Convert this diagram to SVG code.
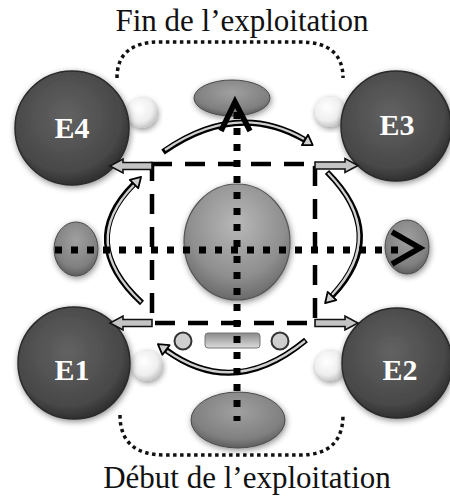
<svg xmlns="http://www.w3.org/2000/svg" width="450" height="498" viewBox="0 0 450 498">
<defs>
<radialGradient id="gDark" cx="0.45" cy="0.4" r="0.6">
<stop offset="0" stop-color="#626262"/><stop offset="0.8" stop-color="#484848"/><stop offset="1" stop-color="#303030"/>
</radialGradient>
<radialGradient id="gMid" cx="0.5" cy="0.35" r="0.65">
<stop offset="0" stop-color="#b8b8b8"/><stop offset="0.7" stop-color="#8e8e8e"/><stop offset="1" stop-color="#6a6a6a"/>
</radialGradient>
<radialGradient id="gEll" cx="0.5" cy="0.35" r="0.65">
<stop offset="0" stop-color="#a0a0a0"/><stop offset="0.75" stop-color="#808080"/><stop offset="1" stop-color="#5e5e5e"/>
</radialGradient>
<radialGradient id="gWhite" cx="0.4" cy="0.35" r="0.65">
<stop offset="0" stop-color="#ffffff"/><stop offset="0.7" stop-color="#eeeeee"/><stop offset="1" stop-color="#c8c8c8"/>
</radialGradient>
<linearGradient id="gBar" x1="0" y1="0" x2="0" y2="1">
<stop offset="0" stop-color="#8a8a8a"/><stop offset="1" stop-color="#dcdcdc"/>
</linearGradient>
<filter id="shadow" x="-20%" y="-20%" width="140%" height="140%">
<feGaussianBlur in="SourceAlpha" stdDeviation="3"/>
<feComponentTransfer><feFuncA type="linear" slope="0.45"/></feComponentTransfer>
<feOffset dx="1" dy="2" result="s"/>
<feMerge><feMergeNode in="s"/><feMergeNode in="SourceGraphic"/></feMerge>
</filter>
<style>
.title{font-family:"Liberation Serif","Times New Roman",serif;font-size:31px;fill:#111;text-anchor:middle}
.elabel{font-family:"Liberation Serif","Times New Roman",serif;font-size:30px;font-weight:bold;fill:#fff;text-anchor:middle}
.big{fill:url(#gDark);stroke:#2a2a2a;stroke-width:1.5;filter:url(#shadow)}
.white{fill:url(#gWhite);filter:url(#shadow)}
.ell{fill:url(#gEll);stroke:#4a4a4a;stroke-width:1;filter:url(#shadow)}
.bracket{fill:none;stroke:#111;stroke-width:3.5;stroke-dasharray:3.5 3.5}
.dash{fill:none;stroke:#000;stroke-width:4.5;stroke-dasharray:20 13}
.dots{fill:none;stroke:#000;stroke-width:7;stroke-dasharray:7 9}
.curveO{fill:none;stroke:#000;stroke-width:6}
.curveI{fill:none;stroke:#d0d0d0;stroke-width:2.4}
.head{fill:#d0d0d0;stroke:#000;stroke-width:1.8;stroke-linejoin:round}
.block{fill:#c4c4c4;stroke:#111;stroke-width:1.6;stroke-linejoin:miter}
.chev{fill:none;stroke:#000;stroke-width:5.5;stroke-linejoin:miter}
</style>
</defs>
<rect width="450" height="498" fill="#fff"/>

<text class="title" x="242" y="31">Fin de l’exploitation</text>
<text class="title" x="247" y="488">Début de l’exploitation</text>

<g id="brackets">
<path class="bracket" d="M117,78 Q117,42 160,42 L300,42 Q343,42 343,78"/>
<path class="bracket" d="M120,415 Q120,455 165,455 L300,455 Q343,455 343,415"/>
</g>

<g id="highlights">
<circle class="white" cx="142" cy="113" r="15"/>
<circle class="white" cx="330" cy="112" r="15"/>
<circle class="white" cx="147" cy="366" r="15"/>
<circle class="white" cx="330" cy="366" r="15"/>
</g>

<g id="E4"><circle class="big" cx="72" cy="128" r="57"/><text class="elabel" x="72" y="138">E4</text></g>
<g id="E3"><circle class="big" cx="396" cy="126" r="55"/><text class="elabel" x="397" y="135">E3</text></g>
<g id="E1"><circle class="big" cx="74" cy="363" r="56"/><text class="elabel" x="72" y="380">E1</text></g>
<g id="E2"><circle class="big" cx="397" cy="363" r="55"/><text class="elabel" x="400" y="380">E2</text></g>

<g id="top-ellipse"><ellipse class="ell" cx="232" cy="98" rx="38" ry="18"/></g>
<g id="bottom-ellipse"><ellipse class="ell" cx="238" cy="420" rx="47" ry="28"/></g>
<g id="left-ellipse"><ellipse class="ell" cx="76" cy="249" rx="22" ry="27"/></g>
<g id="right-ellipse"><ellipse class="ell" cx="407" cy="247" rx="22" ry="27"/></g>
<g id="center"><ellipse cx="237" cy="242" rx="53" ry="58" fill="url(#gMid)" stroke="#555" stroke-width="1.2" filter="url(#shadow)"/></g>
<g id="bottom-items">
<circle cx="183" cy="341" r="8.5" fill="#cfcfcf" stroke="#333" stroke-width="2"/>
<circle cx="280" cy="341" r="8.5" fill="#cfcfcf" stroke="#333" stroke-width="2"/>
<rect x="205" y="333" width="55" height="15" rx="3" fill="url(#gBar)" stroke="#777" stroke-width="1"/>
</g>

<g id="connectors">
<rect class="dash" x="152" y="164" width="163" height="159"/>

<path class="curveO" d="M163,152 Q237,100 305,140"/>
<path class="curveI" d="M165,150 Q237,101 304,139"/>
<polygon class="head" points="312.7,145 301.9,145.2 308.1,134.8"/>

<path class="curveO" d="M142,303 Q76,242 134,184"/>
<path class="curveI" d="M141,302 Q78,242 134,185"/>
<polygon class="head" points="141.1,176.9 138.2,188.2 129.8,179.8"/>

<path class="curveO" d="M327,172 Q390,235 332,296"/>
<path class="curveI" d="M328,173 Q388,235 332,295"/>
<polygon class="head" points="325.1,303.2 336.3,300.1 327.7,291.9"/>

<path class="curveO" d="M306,340 Q234,400 166,350"/>
<path class="curveI" d="M305,341 Q234,398 167,351"/>
<polygon class="head" points="157.9,344.1 169.6,345.2 162.4,354.8"/>

<polygon class="block" points="152,162.5 123,162.5 123,159 110,166 123,173 123,169.5 152,169.5"/>
<polygon class="block" points="315,162 345,162 345,158.5 358,165.5 345,172.5 345,169 315,169"/>
<polygon class="block" points="152,319.5 123,319.5 123,316 110,323 123,330 123,326.5 152,326.5"/>
<polygon class="block" points="315,319.5 345,319.5 345,316 358,323 345,330 345,326.5 315,326.5"/>

<line class="dots" x1="237" y1="112" x2="237" y2="421"/>
<line class="dots" x1="55" y1="250" x2="400" y2="250"/>
<polyline class="chev" points="221,131 235,102 250,131"/>
<polyline class="chev" points="392,232 420,248 392,264"/>
</g>
</svg>
